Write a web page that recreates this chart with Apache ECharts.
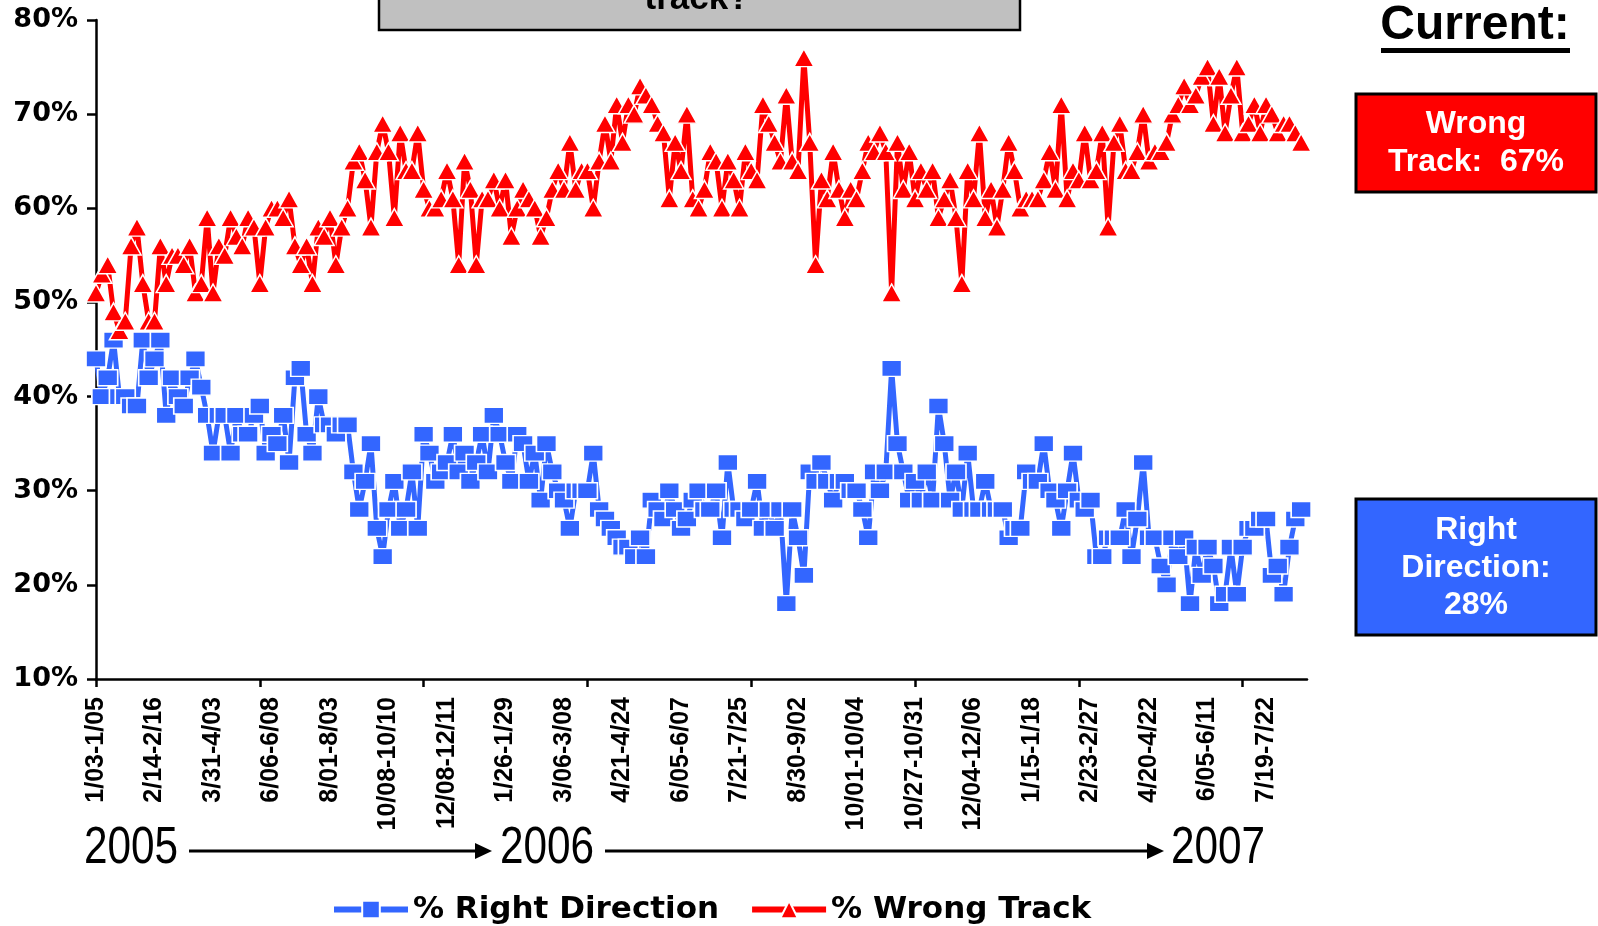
<!DOCTYPE html>
<html>
<head>
    <meta charset="utf-8">
    <script src="https://cdn.jsdelivr.net/npm/echarts@6.0.0/dist/echarts.min.js"></script>
    <style>
        html, body { margin: 0; padding: 0; background: #fff; }
    </style>
</head>
<body>
    <div id="main" style="width: 1598px;height:926px"></div>

    <script type="text/javascript">
        // axis labels, one every 10 polls
        var tickLabels = ['1/03-1/05', '2/14-2/16', '3/31-4/03', '6/06-6/08', '8/01-8/03', '10/08-10/10',
            '12/08-12/11', '1/26-1/29', '3/06-3/08', '4/21-4/24', '6/05-6/07', '7/21-7/25', '8/30-9/02',
            '10/01-10/04', '10/27-10/31', '12/04-12/06', '1/15-1/18', '2/23-2/27', '4/20-4/22',
            '6/05-6/11', '7/19-7/22'];

        var yearLabels = ['2005', '2006', '2007'];

        var rightDirection = [
            44, 40, 42, 46, 40, 40, 39, 39, 46, 42,
            44, 46, 38, 42, 40, 39, 42, 44, 41, 38,
            34, 38, 38, 34, 38, 36, 36, 38, 39, 34,
            36, 35, 38, 33, 42, 43, 36, 34, 40, 37,
            37, 36, 37, 37, 32, 28, 31, 35, 26, 23,
            28, 31, 26, 28, 32, 26, 36, 34, 31, 32,
            33, 36, 32, 34, 31, 33, 36, 32, 38, 36,
            33, 31, 36, 35, 31, 34, 29, 35, 32, 30,
            29, 26, 30, 30, 30, 34, 28, 27, 26, 25,
            24, 24, 23, 25, 23, 29, 28, 27, 30, 28,
            26, 27, 29, 30, 28, 28, 30, 25, 33, 28,
            28, 27, 28, 31, 26, 28, 26, 28, 18, 28,
            25, 21, 32, 31, 33, 31, 29, 31, 31, 30,
            30, 28, 25, 32, 30, 32, 43, 35, 32, 29,
            31, 29, 32, 29, 39, 35, 29, 32, 28, 34,
            28, 28, 31, 28, 28, 28, 25, 26, 26, 32,
            31, 31, 35, 30, 29, 26, 30, 34, 29, 28,
            29, 23, 23, 25, 25, 25, 28, 23, 27, 33,
            25, 25, 22, 20, 25, 23, 25, 18, 24, 21,
            24, 22, 18, 19, 24, 19, 24, 26, 26, 27,
            27, 21, 22, 19, 24, 27, 28
        ];

        var wrongTrack = [
            51, 53, 54, 49, 47, 48, 56, 58, 52, 48,
            48, 56, 52, 55, 55, 54, 56, 51, 52, 59,
            51, 56, 55, 59, 57, 56, 59, 58, 52, 58,
            60, 60, 59, 61, 56, 54, 56, 52, 58, 57,
            59, 54, 58, 60, 65, 66, 63, 58, 66, 69,
            66, 59, 68, 64, 64, 68, 62, 60, 60, 61,
            64, 61, 54, 65, 62, 54, 61, 61, 63, 60,
            63, 57, 60, 62, 61, 60, 57, 59, 62, 64,
            62, 67, 62, 64, 64, 60, 65, 69, 65, 71,
            67, 71, 70, 73, 72, 71, 69, 68, 61, 67,
            64, 70, 61, 60, 62, 66, 65, 60, 65, 63,
            60, 66, 64, 63, 71, 69, 67, 65, 72, 65,
            64, 76, 67, 54, 63, 61, 66, 62, 59, 62,
            61, 64, 67, 66, 68, 66, 51, 67, 62, 66,
            61, 64, 62, 64, 59, 61, 63, 59, 52, 64,
            61, 68, 59, 62, 58, 62, 67, 64, 60, 61,
            61, 61, 63, 66, 62, 71, 61, 64, 63, 68,
            63, 64, 68, 58, 67, 69, 64, 64, 66, 70,
            65, 66, 66, 67, 70, 71, 73, 71, 72, 74,
            75, 69, 74, 68, 72, 75, 68, 69, 71, 68,
            71, 70, 68, 69, 69, 68, 67
        ];

        // one category per poll (+1 empty slot where the axis ends); every 10th is labelled
        var categories = [];
        for (var i = 0; i <= wrongTrack.length; i++) {
            categories.push(i % 10 === 0 ? tickLabels[i / 10] : '#' + i);
        }

        var BLUE = '#3366ff';
        var RED = '#ff0000';
        var ARIAL = '"Liberation Sans", Arial, sans-serif';
        var HEAVY = '"DejaVu Sans", sans-serif';
        var YEAR_FONT = '51px "Liberation Sans", Arial, sans-serif';

        var myChart = echarts.init(document.getElementById('main'));
        var option = {
            animation: false,
            backgroundColor: '#fff',
            grid: {
                left: 96,
                right: 291,
                top: 20,
                bottom: 247,
                outerBoundsMode: 'none'
            },
            legend: {
                left: 326,
                top: 889,
                itemWidth: 74,
                itemHeight: 22,
                itemGap: 30,
                lineStyle: { width: 6 },
                textStyle: { fontFamily: HEAVY, fontWeight: 'bold', fontSize: 31, color: '#000' },
                data: ['% Right Direction', '% Wrong Track']
            },
            xAxis: {
                type: 'category',
                boundaryGap: false,
                data: categories,
                axisLine: { lineStyle: { color: '#000', width: 2.5 } },
                axisTick: {
                    length: 8,
                    lineStyle: { color: '#000', width: 2.5 },
                    interval: function (idx) { return idx % 28 === 0; }
                },
                axisLabel: {
                    interval: 9,
                    rotate: 90,
                    margin: 18,
                    fontFamily: ARIAL,
                    fontWeight: 'bold',
                    fontSize: 25,
                    color: '#000'
                },
                splitLine: { show: false }
            },
            yAxis: {
                type: 'value',
                min: 10,
                max: 80,
                interval: 10,
                axisLine: { show: true, lineStyle: { color: '#000', width: 2.5 } },
                axisTick: { show: true, length: 9, lineStyle: { color: '#000', width: 2.5 } },
                axisLabel: {
                    formatter: '{value}%',
                    margin: 18,
                    fontFamily: HEAVY,
                    fontWeight: 'bold',
                    fontSize: 27,
                    color: '#000'
                },
                splitLine: { show: false }
            },
            series: [{
                name: '% Right Direction',
                type: 'line',
                data: rightDirection,
                symbol: 'rect',
                symbolSize: [20, 16],
                showAllSymbol: true,
                lineStyle: { color: BLUE, width: 5, join: 'round' },
                itemStyle: { color: BLUE, borderColor: '#fff', borderWidth: 1.5 },
                emphasis: { disabled: true },
                z: 2
            }, {
                name: '% Wrong Track',
                type: 'line',
                data: wrongTrack,
                symbol: 'triangle',
                symbolSize: [20, 18],
                showAllSymbol: true,
                lineStyle: { color: RED, width: 5, join: 'round' },
                itemStyle: { color: RED, borderColor: '#fff', borderWidth: 1.5 },
                emphasis: { disabled: true },
                z: 3
            }],
            graphic: [
                // question box, cut off at top of slide
                { type: 'rect', shape: { x: 379, y: -60, width: 641, height: 90 },
                  style: { fill: '#c0c0c0', stroke: '#000', lineWidth: 2.5 } },
                { type: 'text', x: 697, y: -1,
                  style: { text: 'track?', fill: '#000', font: 'bold 35px ' + ARIAL, align: 'center', verticalAlign: 'middle' } },

                // current box
                { type: 'text', x: 1475, y: 26,
                  style: { text: 'Current:', fill: '#000', font: 'bold 48px ' + ARIAL, align: 'center', verticalAlign: 'middle' } },
                { type: 'rect', shape: { x: 1381, y: 48, width: 189, height: 5 }, style: { fill: '#000' } },

                { type: 'rect', shape: { x: 1356, y: 94, width: 240, height: 98 },
                  style: { fill: RED, stroke: '#000', lineWidth: 3 } },
                { type: 'text', x: 1476, y: 124,
                  style: { text: 'Wrong', fill: '#fff', font: 'bold 32px ' + ARIAL, align: 'center', verticalAlign: 'middle' } },
                { type: 'text', x: 1476, y: 162,
                  style: { text: 'Track:  67%', fill: '#fff', font: 'bold 32px ' + ARIAL, align: 'center', verticalAlign: 'middle' } },

                { type: 'rect', shape: { x: 1356, y: 499, width: 240, height: 136 },
                  style: { fill: BLUE, stroke: '#000', lineWidth: 3 } },
                { type: 'text', x: 1476, y: 530,
                  style: { text: 'Right', fill: '#fff', font: 'bold 32px ' + ARIAL, align: 'center', verticalAlign: 'middle' } },
                { type: 'text', x: 1476, y: 568,
                  style: { text: 'Direction:', fill: '#fff', font: 'bold 32px ' + ARIAL, align: 'center', verticalAlign: 'middle' } },
                { type: 'text', x: 1476, y: 605,
                  style: { text: '28%', fill: '#fff', font: 'bold 32px ' + ARIAL, align: 'center', verticalAlign: 'middle' } },

                // years with arrows (narrow face imitated by squeezing Liberation Sans)
                { type: 'text', x: 131, y: 849, scaleX: 0.83,
                  style: { text: yearLabels[0], fill: '#000', font: YEAR_FONT, align: 'center', verticalAlign: 'middle' } },
                { type: 'line', shape: { x1: 189, y1: 851, x2: 478, y2: 851 }, style: { stroke: '#000', lineWidth: 3 } },
                { type: 'polygon', shape: { points: [[475, 843], [492, 851], [475, 859]] }, style: { fill: '#000' } },
                { type: 'text', x: 547, y: 849, scaleX: 0.83,
                  style: { text: yearLabels[1], fill: '#000', font: YEAR_FONT, align: 'center', verticalAlign: 'middle' } },
                { type: 'line', shape: { x1: 605, y1: 851, x2: 1150, y2: 851 }, style: { stroke: '#000', lineWidth: 3 } },
                { type: 'polygon', shape: { points: [[1147, 843], [1164, 851], [1147, 859]] }, style: { fill: '#000' } },
                { type: 'text', x: 1218, y: 849, scaleX: 0.83,
                  style: { text: yearLabels[2], fill: '#000', font: YEAR_FONT, align: 'center', verticalAlign: 'middle' } }
            ]
        };

        myChart.setOption(option);
    </script>
</body>
</html>
